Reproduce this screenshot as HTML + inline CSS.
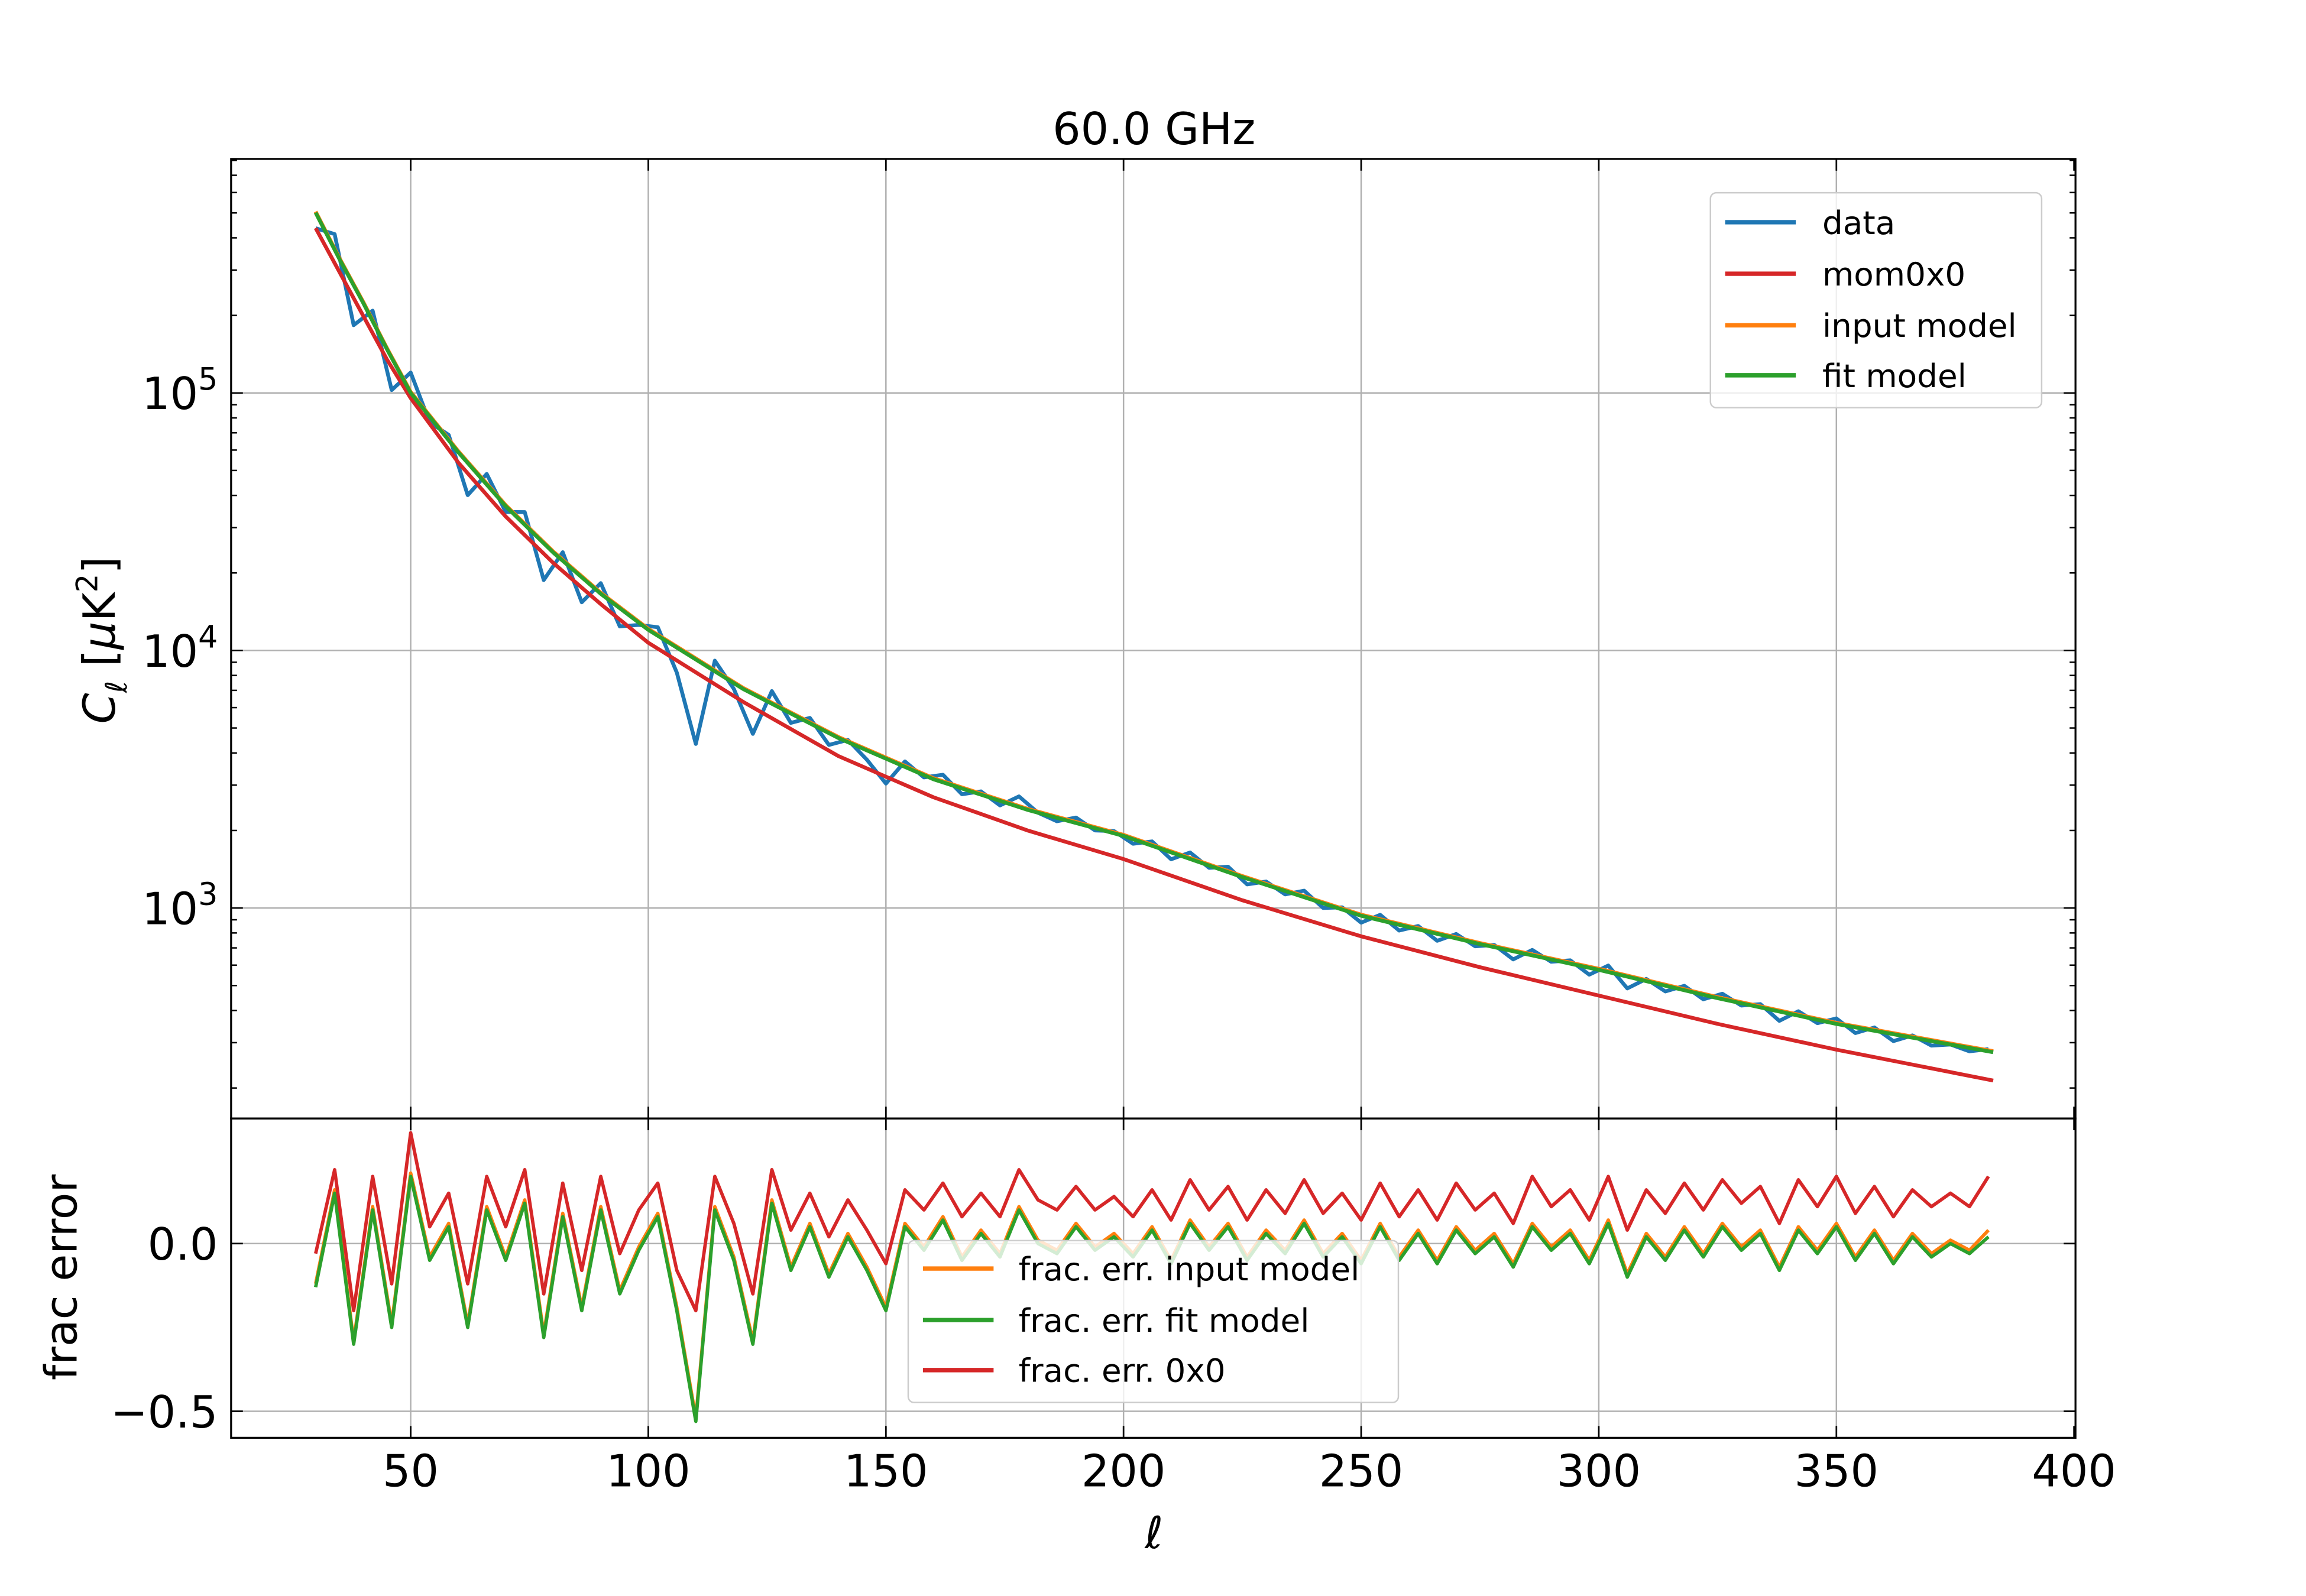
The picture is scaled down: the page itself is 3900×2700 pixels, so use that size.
<!DOCTYPE html>
<html><head><meta charset="utf-8"><style>
html,body{margin:0;padding:0;background:#fff;}
svg{display:block;}
text{font-family:"DejaVu Sans","Liberation Sans",sans-serif;fill:#000;}
</style></head><body>
<svg id="chart" width="3900" height="2700" viewBox="0 0 1566.6 1084.5" preserveAspectRatio="none" xmlns="http://www.w3.org/2000/svg">
<rect x="0" y="0" width="1570" height="1090" fill="#fff"/>
<g id="grid"></g>
<g id="series"></g>
<g id="axes"></g>
<text x="784" y="98" font-size="30" text-anchor="middle">60.0 GHz</text>
<text transform="translate(78,435) rotate(-90)" font-size="30" text-anchor="middle"><tspan font-style="italic">C</tspan><tspan font-size="20" dy="8" font-style="italic">ℓ</tspan><tspan dy="-8"> [</tspan><tspan font-style="italic">μ</tspan><tspan>K</tspan><tspan font-size="20" dy="-12">2</tspan><tspan dy="12">]</tspan></text>
<text transform="translate(52,868) rotate(-90)" font-size="30" text-anchor="middle">frac error</text>
<text x="784" y="1052" font-size="30" font-style="italic" text-anchor="middle">ℓ</text>
<g>
<rect x="1162" y="131" width="225" height="146" rx="4" fill="#fff" fill-opacity="0.8" stroke="#ccc" stroke-width="1"/>
<line x1="1172" y1="151" x2="1220" y2="151" stroke="#1f77b4" stroke-width="3"/><text x="1238" y="159" font-size="22">data</text>
<line x1="1172" y1="186" x2="1220" y2="186" stroke="#d62728" stroke-width="3"/><text x="1238" y="194" font-size="22">mom0x0</text>
<line x1="1172" y1="221" x2="1220" y2="221" stroke="#ff7f0e" stroke-width="3"/><text x="1238" y="229" font-size="22">input model</text>
<line x1="1172" y1="255" x2="1220" y2="255" stroke="#2ca02c" stroke-width="3"/><text x="1238" y="263" font-size="22">fit model</text>
</g>
<g>
<rect x="617" y="843" width="333" height="110" rx="4" fill="#fff" fill-opacity="0.8" stroke="#ccc" stroke-width="1"/>
<line x1="627" y1="862" x2="675" y2="862" stroke="#ff7f0e" stroke-width="3"/><text x="692" y="870" font-size="22">frac. err. input model</text>
<line x1="627" y1="897" x2="675" y2="897" stroke="#2ca02c" stroke-width="3"/><text x="692" y="905" font-size="22">frac. err. fit model</text>
<line x1="627" y1="931" x2="675" y2="931" stroke="#d62728" stroke-width="3"/><text x="692" y="939" font-size="22">frac. err. 0x0</text>
</g>
</svg>
<script>
const modelEll = [30,35,40,45,50,60,70,80,90,100,120,140,160,180,200,225,250,275,300,325,350,383];
const fitLog = [5.70,5.52,5.35,5.17,5.0,4.77,4.56,4.38,4.22,4.08,3.85,3.66,3.50,3.38,3.28,3.12,2.97,2.86,2.76,2.65,2.55,2.44];
const mom0Log = [5.64,5.47,5.30,5.13,4.98,4.73,4.52,4.34,4.18,4.03,3.80,3.59,3.43,3.30,3.19,3.03,2.89,2.77,2.66,2.55,2.45,2.33];
const dataEll = [30,34,38,42,46,50,54,58,62,66,70,74,78,82,86,90,94,98,102,106,110,114,118,122,126,130,134,138,142,146,150,154,158,162,166,170,174,178,182,186,190,194,198,202,206,210,214,218,222,226,230,234,238,242,246,250,254,258,262,266,270,274,278,282,286,290,294,298,302,306,310,314,318,322,326,330,334,338,342,346,350,354,358,362,366,370,374,378,382];
const fracFit = [-0.13,0.15,-0.3,0.1,-0.25,0.2,-0.05,0.05,-0.25,0.1,-0.05,0.12,-0.28,0.08,-0.2,0.1,-0.15,-0.02,0.08,-0.2,-0.53,0.1,-0.05,-0.3,0.12,-0.08,0.05,-0.1,0.02,-0.08,-0.2,0.05,-0.02,0.07,-0.05,0.03,-0.04,0.1,0.0,-0.03,0.05,-0.02,0.02,-0.04,0.04,-0.06,0.06,-0.02,0.05,-0.05,0.03,-0.03,0.06,-0.04,0.02,-0.06,0.05,-0.05,0.03,-0.06,0.04,-0.03,0.02,-0.07,0.05,-0.02,0.03,-0.06,0.06,-0.1,0.02,-0.05,0.04,-0.04,0.05,-0.02,0.03,-0.08,0.04,-0.03,0.05,-0.05,0.03,-0.06,0.02,-0.04,0.0,-0.03,0.02];
const fracInput = [-0.12,0.16,-0.29,0.11,-0.24,0.21,-0.04,0.06,-0.24,0.11,-0.04,0.13,-0.27,0.09,-0.19,0.11,-0.14,-0.01,0.09,-0.19,-0.52,0.11,-0.04,-0.29,0.13,-0.07,0.06,-0.09,0.03,-0.07,-0.19,0.06,-0.01,0.08,-0.04,0.04,-0.03,0.11,0.01,-0.02,0.06,-0.01,0.03,-0.03,0.05,-0.05,0.07,-0.01,0.06,-0.04,0.04,-0.02,0.07,-0.03,0.03,-0.05,0.06,-0.04,0.04,-0.05,0.05,-0.02,0.03,-0.06,0.06,-0.01,0.04,-0.05,0.07,-0.09,0.03,-0.04,0.05,-0.03,0.06,-0.01,0.04,-0.07,0.05,-0.02,0.06,-0.04,0.04,-0.05,0.03,-0.03,0.01,-0.02,0.04];
const frac0x0 = [-0.03,0.22,-0.2,0.2,-0.12,0.33,0.05,0.15,-0.12,0.2,0.05,0.22,-0.15,0.18,-0.08,0.2,-0.03,0.1,0.18,-0.08,-0.2,0.2,0.06,-0.15,0.22,0.04,0.15,0.02,0.13,0.04,-0.06,0.16,0.1,0.18,0.08,0.15,0.08,0.22,0.13,0.1,0.17,0.1,0.14,0.08,0.16,0.07,0.19,0.1,0.17,0.07,0.16,0.09,0.19,0.09,0.15,0.07,0.18,0.08,0.16,0.07,0.18,0.1,0.15,0.06,0.2,0.11,0.16,0.07,0.2,0.04,0.16,0.09,0.18,0.1,0.19,0.12,0.17,0.06,0.19,0.11,0.2,0.09,0.17,0.08,0.16,0.11,0.15,0.11,0.2];
const xTicks = [50,100,150,200,250,300,350,400];
const yTicksLog = [3,4,5];
const fracTicks = [0.0,-0.5];
const fracTickLabels = ["0.0","\u22120.5"];

const NS = "http://www.w3.org/2000/svg";
const L = 157, R = 1410, T1 = 108, B1 = 760, T2 = 760, B2 = 977;
function xs(l){ return 279 + (l - 50) * (1130 / 350); }
function ysLog(v){ return 267 - (v - 5) * 175; }
function ysFrac(f){ return 845 - f * 228; }
function interpFit(l){
  for (let i = 0; i < modelEll.length - 1; i++) {
    if (l <= modelEll[i+1]) { const t = (l - modelEll[i]) / (modelEll[i+1] - modelEll[i]); return fitLog[i] + t * (fitLog[i+1] - fitLog[i]); }
  }
  return fitLog[fitLog.length-1];
}
function mk(tag, attrs, parent){ const e = document.createElementNS(NS, tag); for (const k in attrs) e.setAttribute(k, attrs[k]); parent.appendChild(e); return e; }
const grid = document.getElementById('grid'), series = document.getElementById('series'), axes = document.getElementById('axes');

xTicks.forEach(t => {
  if (t < 400) {
    const g1 = mk('line', {x1:xs(t),x2:xs(t),y1:T1,y2:B1,stroke:'#b0b0b0','stroke-width':1}, grid);
    
    
    const g2 = mk('line', {x1:xs(t),x2:xs(t),y1:T2,y2:B2,stroke:'#b0b0b0','stroke-width':1}, grid);
    
    
  }
});
yTicksLog.forEach(v => {
  const g = mk('line', {x1:L,x2:R,y1:ysLog(v),y2:ysLog(v),stroke:'#b0b0b0','stroke-width':1}, grid);
  
  
});
fracTicks.forEach(v => {
  const g = mk('line', {x1:L,x2:R,y1:ysFrac(v),y2:ysFrac(v),stroke:'#b0b0b0','stroke-width':1}, grid);
  
  
});

function poly(xsArr, ysArr, color, width, name){
  const pts = xsArr.map((x,i) => x.toFixed(2) + ',' + ysArr[i].toFixed(2)).join(' ');
  const p = mk('polyline', {points:pts, fill:'none', stroke:color, 'stroke-width':width, 'stroke-linejoin':'round'}, series);
  
  
}
const n = Math.min(dataEll.length, fracFit.length, fracInput.length, frac0x0.length);
const dX = dataEll.slice(0,n).map(xs);
poly(dX, dataEll.slice(0,n).map((l,i) => ysLog(interpFit(l) + Math.log10(Math.max(0.05, 1 + fracFit[i])))), '#1f77b4', 2.6, 'data-line');
poly(modelEll.map(xs), mom0Log.map(ysLog), '#d62728', 2.6, 'mom0x0-line');
poly(modelEll.map(xs), fitLog.map(v => ysLog(v + 0.004)), '#ff7f0e', 2.6, 'input-model-line');
poly(modelEll.map(xs), fitLog.map(ysLog), '#2ca02c', 2.6, 'fit-model-line');
poly(dX, fracInput.slice(0,n).map(ysFrac), '#ff7f0e', 2.3, 'frac-input-line');
poly(dX, fracFit.slice(0,n).map(ysFrac), '#2ca02c', 2.3, 'frac-fit-line');
poly(dX, frac0x0.slice(0,n).map(ysFrac), '#d62728', 2.3, 'frac-0x0-line');

[[T1,B1,'top-panel-frame'],[T2,B2,'bottom-panel-frame']].forEach(([t,b,nm]) => {
  const r = mk('rect', {x:L,y:t,width:R-L,height:b-t,fill:'none',stroke:'#000','stroke-width':1.3}, axes);
  
  
});
xTicks.forEach(t => {
  const x = xs(t);
  [[T1,1],[B1,-1],[T2,1],[B2,-1]].forEach(([y,d]) => {
    const k = mk('line', {x1:x,x2:x,y1:y,y2:y+d*8,stroke:'#000','stroke-width':1.1}, axes);
    
    
  });
  const tx = mk('text', {x:x, y:1010, 'font-size':30, 'text-anchor':'middle'}, axes);
  tx.textContent = String(t);
  
  
});
for (let dec = 2; dec <= 5; dec++) {
  for (let m = 1; m <= 9; m++) {
    const v = dec + Math.log10(m);
    const y = ysLog(v);
    if (y < T1 || y > B1) continue;
    const len = m === 1 ? 8 : 4;
    [[L,1],[R,-1]].forEach(([x,d]) => {
      const k = mk('line', {x1:x,x2:x+d*len,y1:y,y2:y,stroke:'#000','stroke-width':1}, axes);
      
      
    });
  }
}
yTicksLog.forEach(v => {
  const tx = mk('text', {x:148, y:ysLog(v)+11, 'font-size':30, 'text-anchor':'end'}, axes);
  const a = document.createElementNS(NS,'tspan'); a.textContent = '10'; tx.appendChild(a);
  const b = document.createElementNS(NS,'tspan'); b.setAttribute('font-size','21'); b.setAttribute('dy','-13'); b.textContent = String(v); tx.appendChild(b);
  
  
});
fracTicks.forEach((v,i) => {
  const y = ysFrac(v);
  [[L,1],[R,-1]].forEach(([x,d]) => {
    const k = mk('line', {x1:x,x2:x+d*8,y1:y,y2:y,stroke:'#000','stroke-width':1.1}, axes);
    
    
  });
  const tx = mk('text', {x:148, y:y+11, 'font-size':30, 'text-anchor':'end'}, axes);
  tx.textContent = fracTickLabels[i];
  
  
});
</script>
</body></html>
